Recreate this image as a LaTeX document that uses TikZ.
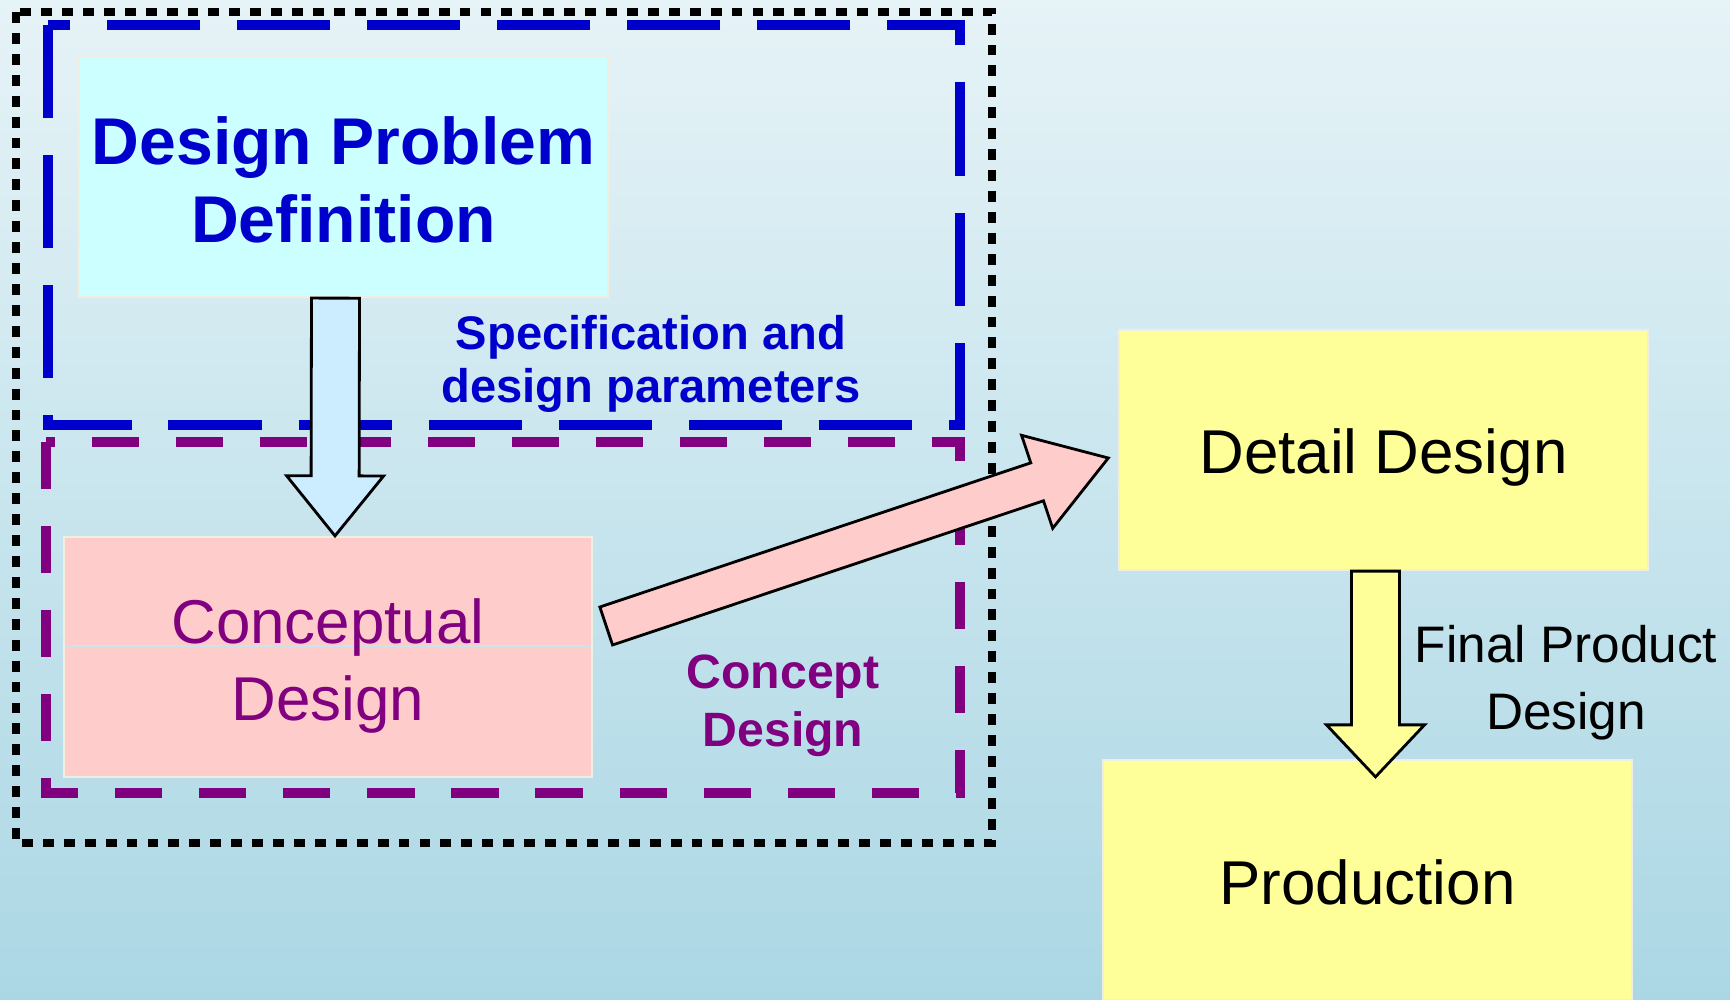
\documentclass[tikz,border=0pt]{standalone}
\usepackage{fontspec}
\setmainfont{Liberation Sans}
\usepackage{xcolor}
\usetikzlibrary{calc}

\definecolor{bgtop}{HTML}{E6F3F7}
\definecolor{bgbot}{HTML}{ABD7E4}
\definecolor{dpblue}{HTML}{0000CC}
\definecolor{dppurple}{HTML}{800080}
\definecolor{dpcyan}{HTML}{CCFFFF}
\definecolor{dppink}{HTML}{FFCCCC}
\definecolor{dpyellow}{HTML}{FFFF99}
\definecolor{arrowblue}{HTML}{CCECFF}
\definecolor{boxedge}{HTML}{F0EEE0}
\definecolor{sepline}{HTML}{C8E4EC}

% block arrow: [opts]{tail}{tip}{half shaft}{half head}{head length}
\newcommand{\fatarrow}[6][]{%
  \coordinate (fa base) at ($(#3)!#6!(#2)$);
  \draw[#1] ($(#2)!#4!90:(#3)$) -- ($(fa base)!#4!90:(#3)$)
    -- ($(fa base)!#5!90:(#3)$) -- (#3)
    -- ($(fa base)!#5!-90:(#3)$) -- ($(fa base)!#4!-90:(#3)$)
    -- ($(#2)!#4!-90:(#3)$) -- cycle;
}

\begin{document}
\begin{tikzpicture}[
    x=0.01cm, y=-0.01cm,
    box/.style={draw=boxedge, line width=0.6pt, minimum width=5.28cm, minimum height=2.40cm, inner sep=0pt},
    boxtext/.style={align=center, font=\fontsize{17.6}{22}\selectfont},
    note/.style={align=center, font=\fontsize{13.6}{15}\selectfont\bfseries},
    bigarrow/.style={draw=black, line width=0.8pt, line join=miter},
    outer/.style={draw=black, line width=2.3pt, dash pattern=on 3.1pt off 2.85pt},
    specframe/.style={draw=dpblue, line width=3.1pt, dash pattern=on 26.5pt off 10.5pt},
    conframe/.style={draw=dppurple, line width=3.1pt, dash pattern=on 13.4pt off 10.5pt}
]
\useasboundingbox (0,0) rectangle (1730,1000);
\shade[top color=bgtop, bottom color=bgbot] (0,0) rectangle (1730,1000);

% frames
\draw[outer] (16,12) rectangle (992,843);
\draw[specframe] (48,25) rectangle (960,425);
\draw[conframe] (46,442) rectangle (960,793);

% boxes
\node[box, fill=dpcyan, label={[boxtext, text=dpblue, font=\fontsize{18.8}{22}\selectfont\bfseries, yshift=-0.03cm]center:{Design Problem\\Definition}}] (problem) at (343.5,177) {};
\node[box, fill=dppink,
      path picture={\draw[sepline, line width=0.6pt] ([yshift=0.11cm]path picture bounding box.west) -- ([yshift=0.11cm]path picture bounding box.east);},
      label={[boxtext, text=dppurple, yshift=-0.09cm]center:{Conceptual\\Design}}] (concept) at (328,657) {};
\node[box, fill=dpyellow, label={[boxtext, yshift=-0.07cm]center:Detail Design}] (detail) at (1383.5,450) {};
\node[box, fill=dpyellow, label={[boxtext, yshift=-0.02cm]center:Production}] (production) at (1367.5,880) {};

% labels
\node[note, text=dpblue, font=\fontsize{13.4}{15.2}\selectfont\bfseries] (spec) at (651,364) {Specification and\\design parameters};
\node[note, text=dppurple, font=\fontsize{13.7}{16.6}\selectfont\bfseries] (conlabel) at (783,706) {Concept\\Design};
\node[align=center, font=\fontsize{14.6}{19}\selectfont] (final) at (1566,683) {Final Product\\Design};

% block arrows
\coordinate (spec tail) at ([shift={(-8,0)}]problem.south);
\coordinate (spec tip) at ([shift={(7,0)}]concept.north);
\coordinate (con tail) at ([shift={(13,-31)}]concept.east);
\coordinate (con tip) at ([shift={(-10,8)}]detail.west);
\coordinate (final tail) at ([shift={(-8,0)}]detail.south);
\coordinate (final tip) at ([shift={(8,18)}]production.north);

\fatarrow[bigarrow, fill=arrowblue]{spec tail}{spec tip}{0.24cm}{0.485cm}{0.60cm}
\fatarrow[bigarrow, fill=dppink]{con tail}{con tip}{0.20cm}{0.49cm}{0.75cm}
\fatarrow[bigarrow, fill=dpyellow]{final tail}{final tip}{0.24cm}{0.49cm}{0.52cm}

\end{tikzpicture}
\end{document}
